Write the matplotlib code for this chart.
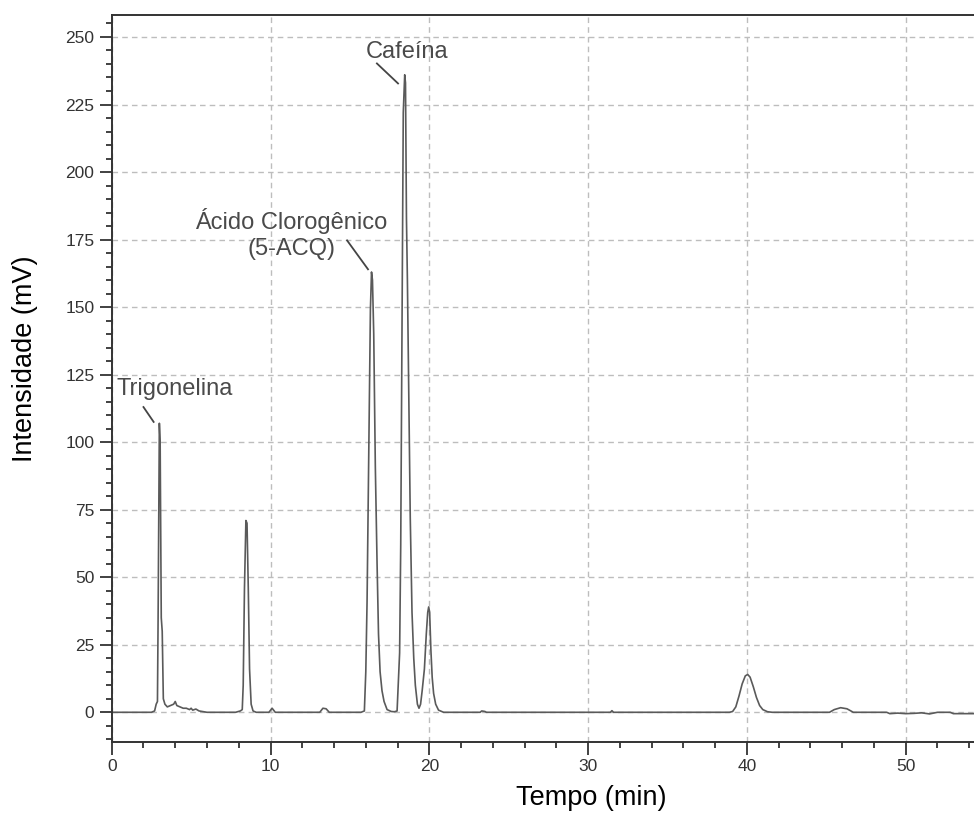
import matplotlib.pyplot as plt
from matplotlib.ticker import MultipleLocator

plt.rcParams['font.family'] = ['Liberation Sans', 'DejaVu Sans']

# chromatogram trace: retention time (min), intensity (mV)
tempo = [0, 2.5, 2.7, 2.8, 2.88, 2.92, 3.0, 3.05, 3.12, 3.18, 3.25, 3.35, 3.5, 3.7,
         3.9, 4.0, 4.1, 4.3, 4.5, 4.7, 4.9, 5.0, 5.1, 5.3, 5.5, 5.8, 6.0,
         7.8, 8.1, 8.22, 8.28, 8.36, 8.45, 8.52, 8.6, 8.68, 8.78, 8.9, 9.1,
         9.9, 10.1, 10.3, 13.1, 13.3, 13.5, 13.7,
         15.7, 15.91, 16.0, 16.08, 16.18, 16.29, 16.36, 16.42, 16.5, 16.6, 16.71,
         16.8, 16.9, 17.02, 17.15, 17.34, 17.6, 17.8, 17.97,
         18.13, 18.2, 18.28, 18.36, 18.45, 18.5, 18.56, 18.62, 18.7, 18.8, 18.91,
         19.02, 19.12, 19.25, 19.35, 19.45, 19.55, 19.62, 19.69, 19.81, 19.9, 19.96,
         20.02, 20.1, 20.18, 20.27, 20.4, 20.58, 20.9,
         23.2, 23.3, 23.5, 23.6, 31.4, 31.5, 31.6,
         38.9, 39.1, 39.3, 39.5, 39.7, 39.9, 40.05, 40.2, 40.4, 40.6, 40.8, 41.0,
         41.3, 41.6, 45.2, 45.5, 45.9, 46.3, 46.7,
         48.8, 49.0, 49.5, 50.0, 50.5, 51.0, 51.5, 52.0, 52.8, 53.0, 54.5]
intensidade = [0, 0, 0.5, 3, 4, 34, 107, 100, 35, 30, 5, 3, 2, 2.5,
               3, 4, 2.5, 2, 1.5, 1.5, 1, 1.5, 0.8, 1.2, 0.5, 0.2, 0,
               0, 0.5, 1, 10, 46, 71, 70, 46, 16, 3, 0.5, 0,
               0, 1.5, 0, 0, 1.5, 1.3, 0,
               0, 0.5, 15, 41, 94, 149, 163, 160, 140, 91, 55,
               29, 15, 8, 4, 1, 0.3, 0.2, 0.5,
               22, 62, 145, 222, 236, 233, 183, 160, 121, 72, 37,
               20, 10, 3, 1.5, 3, 8, 12, 16, 29, 37, 39,
               37, 23, 13, 7, 3, 0.8, 0,
               0, 0.5, 0.3, 0, 0, 0.6, 0,
               0, 0.3, 2, 6, 10.5, 13.5, 14, 13, 9.5, 5.5, 2.5, 1,
               0.2, 0, 0, 1, 1.7, 1.3, 0,
               0, -0.5, -0.3, -0.5, -0.4, -0.2, -0.6, 0, 0, -0.5, -0.5]

# peak labels
rotulos = ["Trigonelina", "Ácido Clorogênico\n(5-ACQ)", "Cafeína"]

fig = plt.figure(figsize=(9.74, 8.18), dpi=100)
ax = fig.add_axes([0.1147, 0.0929, 0.8853, 0.8893])

ax.plot(tempo, intensidade, color='#5a5a5a', lw=1.2)

ax.set_xlim(0, 54.3)
ax.set_ylim(-11, 258.3)
ax.xaxis.set_major_locator(MultipleLocator(10))
ax.xaxis.set_minor_locator(MultipleLocator(2))
ax.yaxis.set_major_locator(MultipleLocator(25))
ax.yaxis.set_minor_locator(MultipleLocator(5))
ax.grid(True, which='major', ls=(0, (4, 3)), color='#bdbdbd', lw=1.0)
ax.tick_params(which='major', length=9, width=1.3, labelsize=12.5,
               labelcolor='#333333', color='#333333')
ax.tick_params(which='minor', length=4.5, width=1.3, color='#333333')
ax.spines['right'].set_visible(False)
for s in ['left', 'bottom', 'top']:
    ax.spines[s].set_linewidth(1.4)
    ax.spines[s].set_color('#333333')

# labels with leader lines
texto_pos = [(3.96, 119.5), (11.3, 177), (18.6, 244.5)]
linha_ini = [(2.0, 113), (14.82, 174.7), (16.7, 240.2)]
linha_fim = [(2.64, 107.5), (16.14, 164), (18.03, 232.8)]
for rot, tp, li, lf in zip(rotulos, texto_pos, linha_ini, linha_fim):
    ax.text(tp[0], tp[1], rot, ha='center', va='center', fontsize=17,
            color='#4a4a4a', linespacing=1.2)
    ax.plot([li[0], lf[0]], [li[1], lf[1]], color='#444444', lw=1.3)

fig.text(0.607, 0.024, "Tempo (min)", ha='center', va='center', fontsize=19.5)
fig.text(0.026, 0.562, "Intensidade (mV)", ha='center', va='center',
         fontsize=19.5, rotation=90)

fig.savefig("out.png", dpi=100)
